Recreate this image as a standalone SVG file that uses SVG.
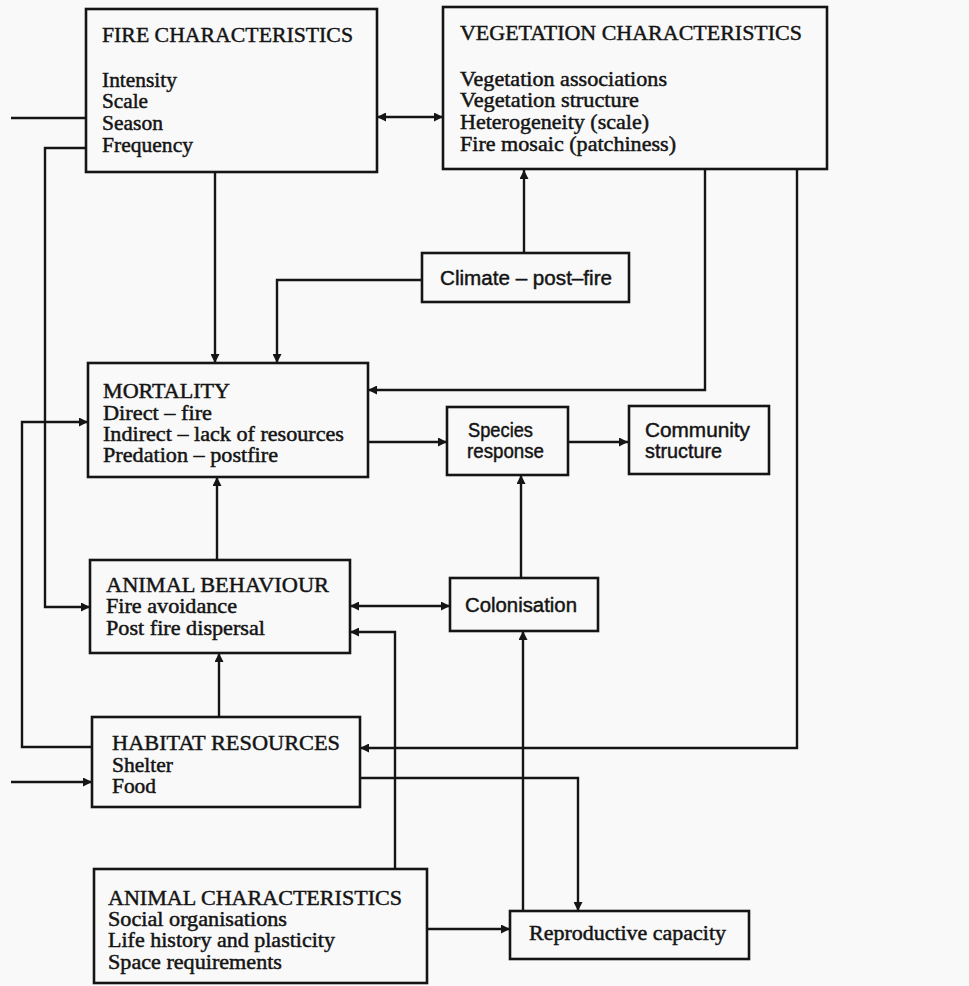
<svg xmlns="http://www.w3.org/2000/svg" width="969" height="986" viewBox="0 0 969 986">
<defs>
<style>
.box{fill:none;stroke:#151515;stroke-width:2.6}
.ln{fill:none;stroke:#151515;stroke-width:2.4}
.arr{marker-end:url(#ah)}
.dbl{marker-start:url(#ah);marker-end:url(#ah)}
.sf{font-family:"Liberation Serif","Times New Roman",serif;fill:#141414;stroke:#141414;stroke-width:0.45}
.ss{font-family:"Liberation Sans",Arial,sans-serif;fill:#141414;stroke:#141414;stroke-width:0.45}
.t{font-size:22px}
.i{font-size:20px}
</style>
<marker id="ah" viewBox="0 0 10 10" refX="10" refY="5" markerUnits="userSpaceOnUse" markerWidth="10" markerHeight="9" orient="auto-start-reverse">
<path d="M0,0 L10,5 L0,10 z" fill="#151515"/>
</marker>
</defs>
<rect x="0" y="0" width="969" height="986" fill="#f9f9f9"/>

<g id="connectors">
<path class="ln" d="M11,118 H86"/>
<path class="ln arr" d="M86,148 H45 V607 H90"/>
<path class="ln dbl" d="M377,117 H443"/>
<path class="ln arr" d="M215,172 V363"/>
<path class="ln arr" d="M524,253 V170"/>
<path class="ln arr" d="M422,280 H277 V363"/>
<path class="ln arr" d="M705,169 V390 H368"/>
<path class="ln arr" d="M797,169 V748 H360"/>
<path class="ln arr" d="M368,442 H447"/>
<path class="ln arr" d="M568,442 H628"/>
<path class="ln arr" d="M521,578 V475"/>
<path class="ln dbl" d="M350,606 H450"/>
<path class="ln arr" d="M217,560 V477"/>
<path class="ln arr" d="M219,717 V653"/>
<path class="ln arr" d="M92,747 H22 V422 H88"/>
<path class="ln arr" d="M11,782 H92"/>
<path class="ln arr" d="M360,778 H578 V911"/>
<path class="ln arr" d="M523,911 V631"/>
<path class="ln arr" d="M395,869 V632 H350"/>
<path class="ln arr" d="M427,929 H510"/>
</g>

<g id="fire">
<rect class="box" x="86" y="9" width="291" height="163"/>
<text class="sf t" x="102" y="42" textLength="251" lengthAdjust="spacingAndGlyphs">FIRE CHARACTERISTICS</text>
<text class="sf i" x="102" y="87" textLength="75" lengthAdjust="spacingAndGlyphs">Intensity</text>
<text class="sf i" x="102" y="108" textLength="46" lengthAdjust="spacingAndGlyphs">Scale</text>
<text class="sf i" x="102" y="130" textLength="61" lengthAdjust="spacingAndGlyphs">Season</text>
<text class="sf i" x="102" y="152" textLength="91" lengthAdjust="spacingAndGlyphs">Frequency</text>
</g>

<g id="vegetation">
<rect class="box" x="443" y="7" width="384" height="162"/>
<text class="sf t" x="460" y="40" textLength="342" lengthAdjust="spacingAndGlyphs">VEGETATION CHARACTERISTICS</text>
<text class="sf i" x="460" y="86" textLength="207" lengthAdjust="spacingAndGlyphs">Vegetation associations</text>
<text class="sf i" x="460" y="107" textLength="179" lengthAdjust="spacingAndGlyphs">Vegetation structure</text>
<text class="sf i" x="460" y="129" textLength="189" lengthAdjust="spacingAndGlyphs">Heterogeneity (scale)</text>
<text class="sf i" x="460" y="151" textLength="216" lengthAdjust="spacingAndGlyphs">Fire mosaic (patchiness)</text>
</g>

<g id="climate">
<rect class="box" x="422" y="253" width="207" height="49"/>
<text class="ss i" x="440" y="285" textLength="172" lengthAdjust="spacingAndGlyphs">Climate – post–fire</text>
</g>

<g id="mortality">
<rect class="box" x="88" y="363" width="280" height="114"/>
<text class="sf i" x="103" y="398" textLength="127" lengthAdjust="spacingAndGlyphs">MORTALITY</text>
<text class="sf i" x="103" y="420" textLength="109" lengthAdjust="spacingAndGlyphs">Direct – fire</text>
<text class="sf i" x="103" y="441" textLength="241" lengthAdjust="spacingAndGlyphs">Indirect – lack of resources</text>
<text class="sf i" x="103" y="462" textLength="175" lengthAdjust="spacingAndGlyphs">Predation – postfire</text>
</g>

<g id="species">
<rect class="box" x="447" y="407" width="121" height="68"/>
<text class="ss i" x="468" y="437" textLength="65" lengthAdjust="spacingAndGlyphs">Species</text>
<text class="ss i" x="467" y="458" textLength="77" lengthAdjust="spacingAndGlyphs">response</text>
</g>

<g id="community">
<rect class="box" x="629" y="406" width="140" height="68"/>
<text class="ss i" x="645" y="437" textLength="105" lengthAdjust="spacingAndGlyphs">Community</text>
<text class="ss i" x="645" y="458" textLength="77" lengthAdjust="spacingAndGlyphs">structure</text>
</g>

<g id="colonisation">
<rect class="box" x="450" y="578" width="148" height="53"/>
<text class="ss i" x="465" y="612" textLength="112" lengthAdjust="spacingAndGlyphs">Colonisation</text>
</g>

<g id="behaviour">
<rect class="box" x="90" y="560" width="260" height="93"/>
<text class="sf t" x="106" y="592" textLength="223" lengthAdjust="spacingAndGlyphs">ANIMAL BEHAVIOUR</text>
<text class="sf i" x="106" y="613" textLength="131" lengthAdjust="spacingAndGlyphs">Fire avoidance</text>
<text class="sf i" x="106" y="635" textLength="159" lengthAdjust="spacingAndGlyphs">Post fire dispersal</text>
</g>

<g id="habitat">
<rect class="box" x="92" y="717" width="268" height="90"/>
<text class="sf t" x="112" y="750" textLength="228" lengthAdjust="spacingAndGlyphs">HABITAT RESOURCES</text>
<text class="sf i" x="112" y="772" textLength="61" lengthAdjust="spacingAndGlyphs">Shelter</text>
<text class="sf i" x="112" y="793" textLength="44" lengthAdjust="spacingAndGlyphs">Food</text>
</g>

<g id="animalchar">
<rect class="box" x="94" y="869" width="333" height="114"/>
<text class="sf t" x="108" y="905" textLength="294" lengthAdjust="spacingAndGlyphs">ANIMAL CHARACTERISTICS</text>
<text class="sf i" x="108" y="926" textLength="179" lengthAdjust="spacingAndGlyphs">Social organisations</text>
<text class="sf i" x="108" y="947" textLength="227" lengthAdjust="spacingAndGlyphs">Life history and plasticity</text>
<text class="sf i" x="108" y="969" textLength="174" lengthAdjust="spacingAndGlyphs">Space requirements</text>
</g>

<g id="reproductive">
<rect class="box" x="510" y="911" width="239" height="48"/>
<text class="sf i" x="529" y="940" textLength="197" lengthAdjust="spacingAndGlyphs">Reproductive capacity</text>
</g>
</svg>
